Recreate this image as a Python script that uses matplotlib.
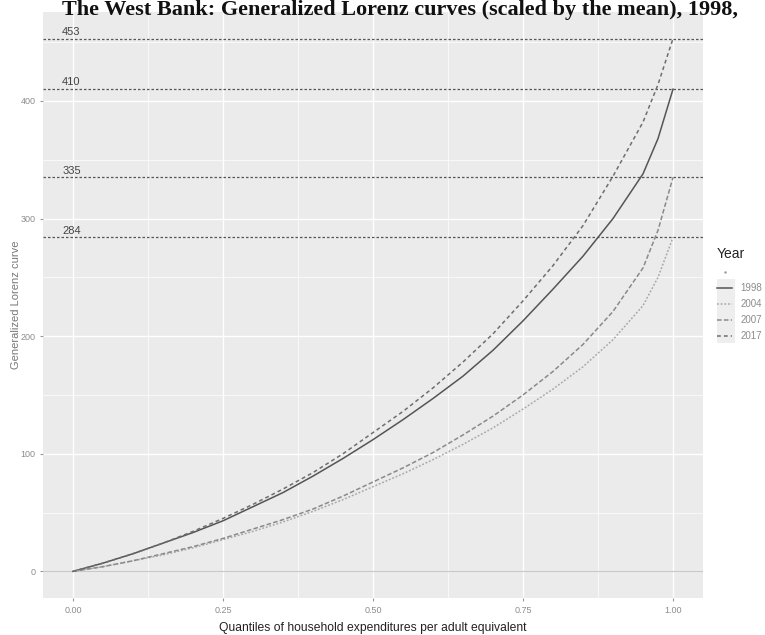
import matplotlib

matplotlib.use("Agg")
import matplotlib.pyplot as plt
from matplotlib.lines import Line2D
from matplotlib.patches import Rectangle

# quantile grid and generalized Lorenz ordinates (scaled by the mean)
quantiles = [0.0, 0.05, 0.10, 0.15, 0.20, 0.25, 0.30, 0.35, 0.40, 0.45, 0.50,
             0.55, 0.60, 0.65, 0.70, 0.75, 0.80, 0.85, 0.90, 0.95, 0.975, 1.0]
gl_1998 = [0, 7, 15, 24, 33, 43, 55, 67, 81, 96, 112,
           129, 147, 166, 188, 213, 240, 268, 300, 338, 368, 410]
gl_2004 = [0, 4, 9, 14, 20, 27, 34, 42, 51, 61, 72,
           83, 95, 108, 122, 138, 155, 174, 197, 226, 250, 284]
gl_2007 = [0, 4, 9, 15, 21, 28, 36, 44, 53, 64, 76,
           88, 101, 116, 132, 150, 170, 193, 221, 258, 290, 335]
gl_2017 = [0, 7, 15, 24, 34, 45, 57, 70, 84, 100, 118,
           136, 156, 178, 202, 230, 260, 294, 336, 382, 414, 453]

years = ["1998", "2004", "2007", "2017"]
series = [gl_1998, gl_2004, gl_2007, gl_2017]
means = [410, 284, 335, 453]

ticks_x = [0.0, 0.25, 0.50, 0.75, 1.00]
tick_labels_x = ["0.00", "0.25", "0.50", "0.75", "1.00"]
ticks_y = [0, 100, 200, 300, 400]

styles = {
    "1998": dict(color="#555555", linestyle="-", linewidth=1.1),
    "2004": dict(color="#a8a8a8", linestyle=(0, (1.2, 1.2)), linewidth=1.1),
    "2007": dict(color="#8a8a8a", linestyle=(0, (3, 1.5)), linewidth=1.1),
    "2017": dict(color="#6e6e6e", linestyle=(0, (2.5, 2)), linewidth=1.1),
}

plt.rcParams["font.family"] = ["Liberation Sans", "DejaVu Sans"]

fig = plt.figure(figsize=(7.65, 6.35), dpi=100)
ax = fig.add_axes([43 / 765, 37 / 635, 660 / 765, 586 / 635])
ax.set_facecolor("#ebebeb")

ymax = max(means)
ax.set_xlim(-0.05, 1.05)
ax.set_ylim(-0.05 * ymax, ymax * 1.05)

# ggplot-like grid
ax.set_xticks(ticks_x)
ax.set_xticklabels(tick_labels_x)
ax.set_yticks(ticks_y)
ax.set_xticks([0.125, 0.375, 0.625, 0.875], minor=True)
ax.set_yticks([50, 150, 250, 350, 450], minor=True)
ax.grid(which="major", color="white", linewidth=1.0)
ax.grid(which="minor", color="white", linewidth=0.5)
ax.set_axisbelow(True)
for s in ax.spines.values():
    s.set_visible(False)
ax.tick_params(which="major", length=2.5, color="#999999", labelcolor="#8c8c8c",
               labelsize=6.5, pad=3)
ax.tick_params(which="minor", length=0)

ax.axhline(0, color="#c9c9c9", linewidth=0.9, zorder=1)

# reference lines at each year's mean
for m in means:
    ax.axhline(m, color="#555555", linewidth=0.9, linestyle=(0, (2, 1.6)), zorder=2)
    ax.text(-0.018, m + 1.5, str(m), fontsize=8, color="#444444",
            ha="left", va="bottom")

handles = [Line2D([], [], linestyle="none", marker=".", markersize=1.5,
                  color="#999999")]
for yr, vals in zip(years, series):
    ax.plot(quantiles, vals, zorder=3, **styles[yr])
    handles.append(Line2D([], [], **styles[yr]))

ax.set_xlabel("Quantiles of household expenditures per adult equivalent",
              fontsize=8.7, color="#222222", labelpad=5)
ax.set_ylabel("Generalized Lorenz curve", fontsize=8, color="#777777")
ax.yaxis.set_label_coords(-0.034, 0.5)

# legend on the right
fig.patches.append(Rectangle((717 / 765, 1 - 343 / 635), 18 / 765, 64 / 635,
                             transform=fig.transFigure, facecolor="#eeeeee",
                             edgecolor="none", zorder=0))
leg = fig.legend(handles, [""] + years, loc="upper left",
                 bbox_to_anchor=(713 / 765, 1 - 243 / 635), frameon=False,
                 fontsize=7, handlelength=1.6, handletextpad=0.8,
                 labelspacing=0.62, title="Year", borderaxespad=0)
leg.get_title().set_fontsize(10)
leg.get_title().set_color("#222222")
leg._legend_box.align = "left"
for t in leg.get_texts():
    t.set_color("#8c8c8c")

fig.text(62 / 765, 1 - 0.5 / 635,
         "The West Bank: Generalized Lorenz curves (scaled by the mean), 1998,",
         fontsize=16, fontweight="bold", family=["Liberation Serif", "DejaVu Serif"],
         ha="left", va="top", color="#111111")

fig.savefig("out.png", dpi=100)
